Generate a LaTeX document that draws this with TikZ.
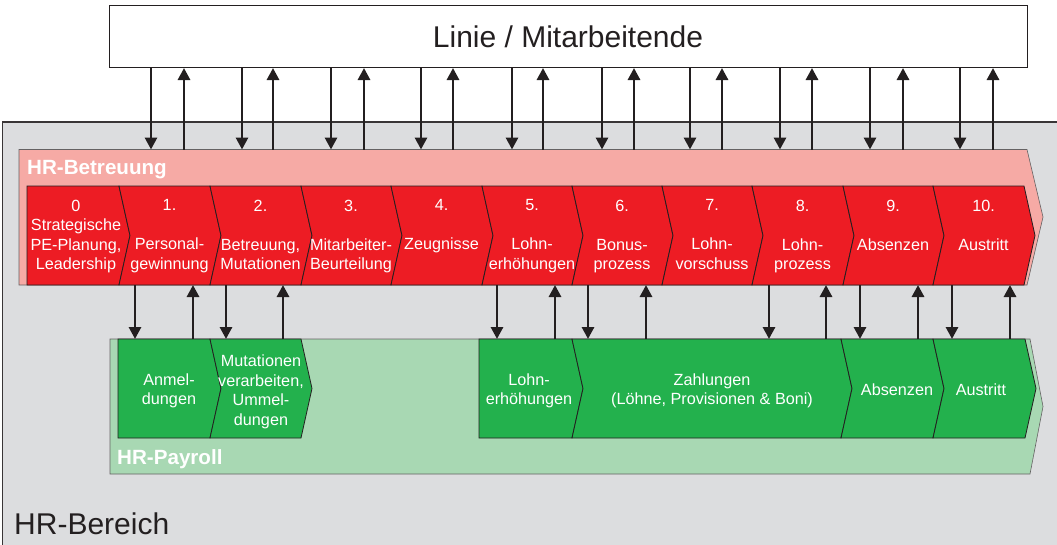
\documentclass[tikz,border=0pt]{standalone}
\usepackage{fontspec}
\setmainfont{Liberation Sans}
\usetikzlibrary{arrows.meta}
\definecolor{bggray}{RGB}{220,221,223}
\definecolor{pinkband}{RGB}{246,170,165}
\definecolor{chred}{RGB}{237,28,36}
\definecolor{chgreen}{RGB}{35,177,77}
\definecolor{palegreen}{RGB}{168,216,179}
\definecolor{ink}{RGB}{35,31,32}
\newcommand{\rchev}[2]{\filldraw[redchev] (#1,186) -- (#2,186) -- ({#2+11},235.5) -- (#2,285) -- (#1,285) -- ({#1+11},235.5) -- cycle;}
\newcommand{\gchev}[2]{\filldraw[greenchev] (#1,339) -- (#2,339) -- ({#2+11},388.5) -- (#2,438) -- (#1,438) -- ({#1+11},388.5) -- cycle;}
\begin{document}
\begin{tikzpicture}[x=1pt,y=-1pt,
  redchev/.style={fill=chred,draw=ink,line width=0.8pt,line join=miter},
  greenchev/.style={fill=chgreen,draw=ink,line width=0.8pt,line join=miter},
  chtext/.style={text=white,font=\fontsize{16.2}{19.5}\selectfont,align=center,inner sep=0pt},
  arr/.style={draw=ink,line width=2.9pt,-{Triangle[length=12pt,width=12pt]}},
  bandlabel/.style={text=white,font=\fontsize{20.6}{24}\selectfont\bfseries,inner sep=0pt,anchor=base west},
  bigtext/.style={text=ink,font=\fontsize{30}{36}\selectfont,inner sep=0pt}]
\useasboundingbox (0,0) rectangle (1057,544);
% HR-Bereich outer area
\filldraw[fill=bggray,draw=ink!90,line width=1.4pt] (2.5,122) rectangle (1070,560);
\node[bigtext,anchor=base west] (bereich) at (14,534) {HR-Bereich};
% Linie box
\node[bigtext,draw=ink,line width=1pt,fill=white,minimum width=918pt,minimum height=62pt] (linie) at (568,36.5) {Linie / Mitarbeitende};
% HR-Betreuung band
\filldraw[fill=pinkband,draw=ink!70,line width=0.6pt] (19,149.5) -- (1027,149.5) -- (1043,217) -- (1027,285) -- (19,285) -- cycle;
\node[bandlabel] (betreuung) at (27,174) {HR-Betreuung};
% HR-Payroll band
\filldraw[fill=palegreen,draw=ink!70,line width=0.6pt] (110,339) -- (1030,339) -- (1043,406.5) -- (1030,474) -- (110,474) -- cycle;
\node[bandlabel] (payroll) at (117,464) {HR-Payroll};
% red chevrons
\filldraw[redchev] (27,186) -- (119,186) -- (130,235.5) -- (119,285) -- (27,285) -- cycle;
\rchev{119}{210}\rchev{210}{301}\rchev{301}{391}\rchev{391}{482}\rchev{482}{572}
\rchev{572}{662}\rchev{662}{752}\rchev{752}{843}\rchev{843}{933}\rchev{933}{1024}
\node[chtext,anchor=north] (r0) at (76,199.5) {0\\Strategische\\PE-Planung,\\Leadership};
\node[chtext,anchor=north] (r1) at (169.5,199.5) {1.\\\mbox{}\\Personal-\\gewinnung};
\node[chtext,anchor=north] (r2) at (260.5,199.5) {2.\\\mbox{}\\Betreuung,\\Mutationen};
\node[chtext,anchor=north] (r3) at (351,199.5) {3.\\\mbox{}\\Mitarbeiter-\\Beurteilung};
\node[chtext,anchor=north] (r4) at (441.5,199.5) {4.\\\mbox{}\\Zeugnisse};
\node[chtext,anchor=north] (r5) at (532,199.5) {5.\\\mbox{}\\Lohn-\\erhöhungen};
\node[chtext,anchor=north] (r6) at (622,199.5) {6.\\\mbox{}\\Bonus-\\prozess};
\node[chtext,anchor=north] (r7) at (712,199.5) {7.\\\mbox{}\\Lohn-\\vorschuss};
\node[chtext,anchor=north] (r8) at (802.5,199.5) {8.\\\mbox{}\\Lohn-\\prozess};
\node[chtext,anchor=north] (r9) at (893,199.5) {9.\\\mbox{}\\Absenzen};
\node[chtext,anchor=north] (r10) at (983.5,199.5) {10.\\\mbox{}\\Austritt};
% green chevrons
\filldraw[greenchev] (118,339) -- (210,339) -- (221,388.5) -- (210,438) -- (118,438) -- cycle;
\gchev{210}{301}
\filldraw[greenchev] (479,339) -- (572,339) -- (583,388.5) -- (572,438) -- (479,438) -- cycle;
\gchev{572}{841}\gchev{841}{933}\gchev{933}{1025}
\node[chtext] (g1) at (169,391) {Anmel-\\dungen};
\node[chtext] (g2) at (261,392) {Mutationen\\verarbeiten,\\Ummel-\\dungen};
\node[chtext] (g3) at (529,391) {Lohn-\\erhöhungen};
\node[chtext] (g4) at (712,391) {Zahlungen\\(Löhne, Provisionen \& Boni)};
\node[chtext] (g5) at (897,390) {Absenzen};
\node[chtext] (g6) at (981,390) {Austritt};
% arrows Linie <-> HR-Betreuung
\foreach \x [count=\i] in {151,242,331,421,512,602,690,780,870,960}
  {\coordinate (td\i) at (\x,149.5); \draw[arr] (linie.south -| td\i) -- (td\i);}
\foreach \x [count=\i] in {184,273,364,453,543,634,722,812,903,993}
  {\coordinate (tu\i) at (\x,149.5); \draw[arr] (tu\i) -- (linie.south -| tu\i);}
% arrows HR-Betreuung <-> HR-Payroll
\foreach \x [count=\i] in {135,226,497,588,769,860,952}
  {\coordinate (bd\i) at (\x,285); \coordinate (bdt\i) at (\x,339); \draw[arr] (bd\i) -- (bdt\i);}
\foreach \x [count=\i] in {193,283,555,646,826,918,1010}
  {\coordinate (bu\i) at (\x,339); \coordinate (but\i) at (\x,285); \draw[arr] (bu\i) -- (but\i);}
\end{tikzpicture}
\end{document}
